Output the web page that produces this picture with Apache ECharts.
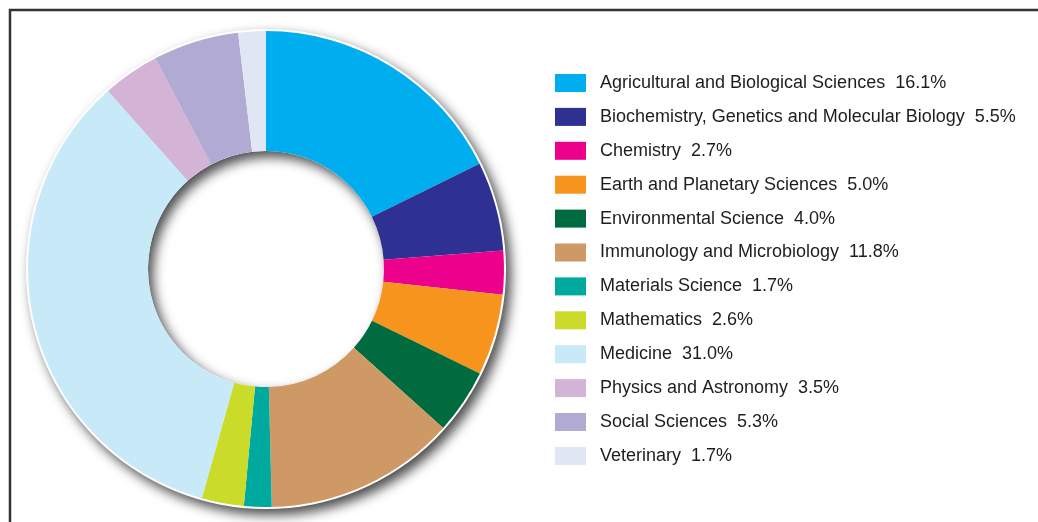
<!DOCTYPE html>
<html>
<head>
<meta charset="utf-8">
<script src="https://cdn.jsdelivr.net/npm/echarts@6/dist/echarts.min.js"></script>
<style>
  html, body { margin: 0; padding: 0; background: #ffffff; }
  #chart { width: 1038px; height: 522px; }
</style>
</head>
<body>
<div id="chart"></div>
<script>
// Subject areas and their share of publications (%)
const categories = [
  'Agricultural and Biological Sciences',
  'Biochemistry, Genetics and Molecular Biology',
  'Chemistry',
  'Earth and Planetary Sciences',
  'Environmental Science',
  'Immunology and Microbiology',
  'Materials Science',
  'Mathematics',
  'Medicine',
  'Physics and Astronomy',
  'Social Sciences',
  'Veterinary'
];
const shares = [16.1, 5.5, 2.7, 5.0, 4.0, 11.8, 1.7, 2.6, 31.0, 3.5, 5.3, 1.7];
const palette = [
  '#00AEEF', '#2E3192', '#EC008C', '#F7941D', '#006B3F', '#CF9966',
  '#00A99D', '#CBDB2A', '#C7E9F8', '#D3B3D6', '#B1AAD3', '#E0E6F4'
];

const center = [266, 269];
const innerR = 118;
const outerR = 238;

const chart = echarts.init(document.getElementById('chart'), null, { renderer: 'canvas' });

const sliceData = categories.map((name, i) => ({
  name: name,
  value: shares[i],
  itemStyle: { color: palette[i] }
}));

chart.setOption({
  backgroundColor: '#ffffff',
  animation: false,
  color: palette,
  legend: {
    orient: 'vertical',
    left: 555,
    top: 74,
    padding: 0,
    itemWidth: 31,
    itemHeight: 18,
    itemGap: 15.9,
    icon: 'rect',
    selectedMode: false,
    data: categories,
    formatter: function (name) {
      const i = categories.indexOf(name);
      return name + '  ' + shares[i].toFixed(1) + '%';
    },
    textStyle: {
      fontFamily: '"Liberation Sans", Arial, sans-serif',
      fontSize: 18,
      lineHeight: 18,
      color: '#1f1c1d',
      padding: [0, 0, 0, 9]
    }
  },
  graphic: [
    {
      type: 'polyline',
      z: 100,
      shape: { points: [[10, 522], [10, 10], [1038, 10]] },
      style: { stroke: '#333333', lineWidth: 2.5, fill: null }
    }
  ],
  series: [
    {
      // white backing ring casting the drop shadow
      type: 'pie',
      z: 1,
      silent: true,
      center: center,
      radius: [innerR, outerR + 2],
      label: { show: false },
      labelLine: { show: false },
      emphasis: { disabled: true },
      itemStyle: {
        color: '#ffffff',
        shadowColor: 'rgba(0,0,0,0.7)',
        shadowBlur: 12,
        shadowOffsetX: 5,
        shadowOffsetY: 6
      },
      data: [{ name: '', value: 1 }],
      legendHoverLink: false
    },
    {
      type: 'pie',
      z: 2,
      center: center,
      radius: [innerR, outerR],
      startAngle: 90,
      clockwise: true,
      label: { show: false },
      labelLine: { show: false },
      itemStyle: { borderWidth: 0 },
      data: sliceData
    }
  ]
});
</script>
</body>
</html>
